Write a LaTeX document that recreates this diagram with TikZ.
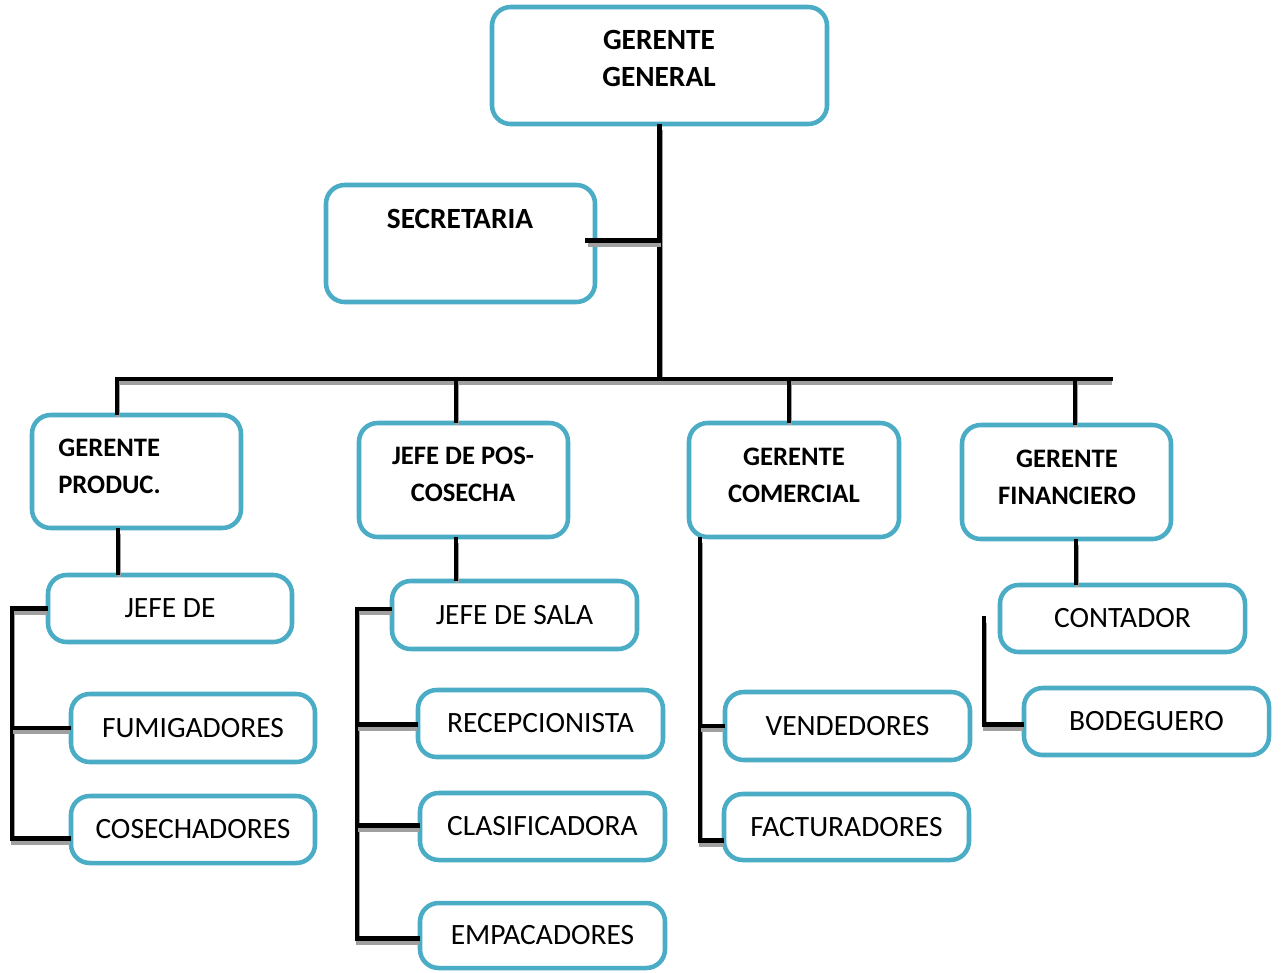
\documentclass[tikz,border=0pt]{standalone}
\usepackage{fontspec}
\setmainfont{Carlito}
\definecolor{boxblue}{RGB}{75,172,198}
\definecolor{shadowgray}{RGB}{160,160,160}
\begin{document}
\begin{tikzpicture}[x=0.75pt,y=-0.75pt,
  box/.style 2 args={draw=boxblue, line width=3.4pt, rounded corners=14pt, fill=white,
     minimum width=#1*0.75pt, minimum height=#2*0.75pt, inner sep=0pt,
     font=\fontsize{22.1}{27.8}\selectfont},
  lbl/.style={font=\fontsize{20}{27.8}\selectfont\bfseries, align=center, inner sep=0pt},
  biglbl/.style={lbl, font=\fontsize{22}{27.8}\selectfont\bfseries},
  conn/.style={line width=3.6pt, black, line cap=rect,
     preaction={draw=shadowgray, line width=3.6pt, transform canvas={shift={(0.75pt,-3pt)}}}}]
\useasboundingbox (0,0) rectangle (1281,972);

% boxes
\node[box={335}{117}] (gg)  at (659.5,65.5) {};
\node[box={269}{117}] (sec) at (460.5,243.5) {};
\node[box={209}{113}] (gp)  at (136.5,471.5) {};
\node[box={209}{114}] (jpc) at (463.5,480) {};
\node[box={210}{114}] (gc)  at (794,480) {};
\node[box={209}{114}] (gf)  at (1066.5,482) {};
\node[box={244}{67}] (jd)  at (170,608.5) {JEFE DE};
\node[box={244}{68}] (fum) at (193,728) {FUMIGADORES};
\node[box={244}{67}] (cos) at (193,829.5) {COSECHADORES};
\node[box={245}{68}] (js)  at (514.5,615) {JEFE DE SALA};
\node[box={245}{67}] (rec) at (540.5,723.5) {RECEPCIONISTA};
\node[box={245}{67}] (cla) at (542.5,826.5) {CLASIFICADORA};
\node[box={245}{65}] (emp) at (542.5,935.5) {EMPACADORES};
\node[box={245}{68}] (ven) at (847.5,726) {VENDEDORES};
\node[box={245}{66}] (fac) at (846.5,827) {FACTURADORES};
\node[box={245}{67}] (con) at (1122.5,618.5) {CONTADOR};
\node[box={245}{67}] (bod) at (1146.5,721.5) {BODEGUERO};

% texts
\node[biglbl] (ggt)  at (659,58.5) {GERENTE\\GENERAL};
\node[biglbl] (sect) at (460,219) {SECRETARIA};
\node[lbl, anchor=west, align=left] (gpt) at (58,466.5) {GERENTE\\PRODUC.};
\node[lbl] (jpct) at (463,474.5) {JEFE DE POS-\\COSECHA};
\node[lbl] (gct)  at (794,475) {GERENTE\\COMERCIAL};
\node[lbl] (gft)  at (1067,477) {GERENTE\\FINANCIERO};

% junction coordinates
\coordinate (barL) at (117,379);
\coordinate (barR) at (1111,379);
\coordinate (b2) at (456,379);
\coordinate (b3) at (789,379);
\coordinate (b4) at (1075,379);
\coordinate (v1) at (118,0);
\coordinate (v2) at (456,0);
\coordinate (v4) at (1076,0);
\coordinate (s1) at (12,0);
\coordinate (s2) at (357,0);
\coordinate (s3) at (700,0);
\coordinate (s4) at (984,0);

% connectors
\draw[conn] (gg.south) -- (gg.south |- barL);
\draw[conn] ([xshift=-7.5pt,yshift=2pt]sec.east) -- ([yshift=2pt]sec.east -| gg.south);
\draw[conn] (barL) -- (barR);
\draw[conn] (barL) -- (barL |- gp.north);
\draw[conn] (b2) -- (b2 |- jpc.north);
\draw[conn] (b3) -- (b3 |- gc.north);
\draw[conn] (b4) -- (b4 |- gf.north);

\draw[conn] (v1 |- gp.south) -- (v1 |- jd.north);
\draw[conn] (jd.west) -- (jd.west -| s1) -- ([yshift=-7pt]cos.west -| s1) -- ([yshift=-7pt]cos.west);
\draw[conn] (fum.west -| s1) -- (fum.west);

\draw[conn] (v2 |- jpc.south) -- (v2 |- js.north);
\draw[conn] ([yshift=4.5pt]js.west) -- ([yshift=4.5pt]js.west -| s2) -- ([yshift=-2pt]emp.west -| s2) -- ([yshift=-2pt]emp.west);
\draw[conn] ([yshift=-1pt]rec.west -| s2) -- ([yshift=-1pt]rec.west);
\draw[conn] ([yshift=1pt]cla.west -| s2) -- ([yshift=1pt]cla.west);

\draw[conn] (gc.south -| s3) -- ([yshift=-10pt]fac.west -| s3) -- ([yshift=-10pt]fac.west);
\draw[conn] (ven.west -| s3) -- (ven.west);

\draw[conn] (v4 |- gf.south) -- (v4 |- con.north);
\draw[conn] (con.west -| s4) -- ([yshift=-2.5pt]bod.west -| s4) -- ([yshift=-2.5pt]bod.west);
\end{tikzpicture}
\end{document}
